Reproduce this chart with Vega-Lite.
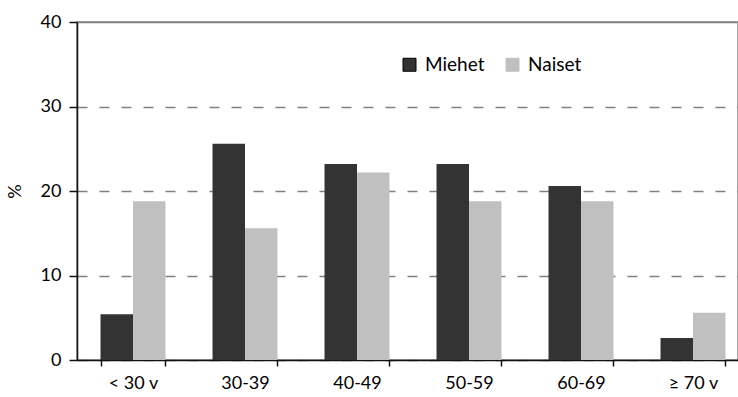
{
  "$schema": "https://vega.github.io/schema/vega-lite/v6.json",
  "autosize": {"type": "none"},
  "padding": {"left": 77, "top": 22, "right": 0, "bottom": 37},
  "width": 661,
  "height": 338,
  "background": "white",
  "config": {
    "font": "Lato",
    "view": {"stroke": "#888888", "strokeWidth": 1.5},
    "axis": {"labelFont": "Lato", "titleFont": "Lato", "labelColor": "#000000", "titleColor": "#000000"}
  },
  "data": {
    "values": [
      {"ika": "< 30 v", "sukupuoli": "Miehet", "osuus": 5.4},
      {"ika": "< 30 v", "sukupuoli": "Naiset", "osuus": 18.8},
      {"ika": "30-39", "sukupuoli": "Miehet", "osuus": 25.6},
      {"ika": "30-39", "sukupuoli": "Naiset", "osuus": 15.6},
      {"ika": "40-49", "sukupuoli": "Miehet", "osuus": 23.2},
      {"ika": "40-49", "sukupuoli": "Naiset", "osuus": 22.2},
      {"ika": "50-59", "sukupuoli": "Miehet", "osuus": 23.2},
      {"ika": "50-59", "sukupuoli": "Naiset", "osuus": 18.8},
      {"ika": "60-69", "sukupuoli": "Miehet", "osuus": 20.6},
      {"ika": "60-69", "sukupuoli": "Naiset", "osuus": 18.8},
      {"ika": "≥ 70 v", "sukupuoli": "Miehet", "osuus": 2.6},
      {"ika": "≥ 70 v", "sukupuoli": "Naiset", "osuus": 5.6}
    ]
  },
  "mark": {"type": "bar"},
  "encoding": {
    "x": {
      "field": "ika",
      "type": "nominal",
      "sort": null,
      "scale": {"range": [0, 672], "paddingInner": 0.42, "paddingOuter": 0.21},
      "axis": {
        "title": null,
        "labelAngle": 0,
        "labelFontSize": 18,
        "labelPadding": 8,
        "tickBand": "extent",
        "tickSize": 6,
        "tickColor": "#111111",
        "tickWidth": 1.5,
        "domainColor": "#111111",
        "domainWidth": 1.5,
        "grid": false
      }
    },
    "xOffset": {"field": "sukupuoli", "type": "nominal", "sort": ["Miehet", "Naiset"]},
    "y": {
      "field": "osuus",
      "type": "quantitative",
      "scale": {"domain": [0, 40], "nice": false},
      "axis": {
        "title": "%",
        "titleAngle": -90,
        "titleFontSize": 18,
        "titleFontWeight": "normal",
        "titlePadding": 16,
        "values": [0, 10, 20, 30, 40],
        "labelFontSize": 18,
        "labelPadding": 8,
        "tickSize": 8,
        "tickColor": "#111111",
        "tickWidth": 1.5,
        "domainColor": "#111111",
        "domainWidth": 1.5,
        "grid": true,
        "gridColor": "#808080",
        "gridWidth": 1.5,
        "gridDash": {"condition": {"test": "datum.value === 40", "value": []}, "value": [10, 12]}
      }
    },
    "color": {
      "field": "sukupuoli",
      "type": "nominal",
      "scale": {"domain": ["Miehet", "Naiset"], "range": ["#333333", "#c0c0c0"]},
      "legend": {
        "title": null,
        "orient": "none",
        "legendX": 323,
        "legendY": 33,
        "direction": "horizontal",
        "symbolType": "square",
        "symbolSize": 169,
        "symbolOpacity": 1,
        "labelFontSize": 19,
        "labelColor": "#000000",
        "labelOffset": 6,
        "columnPadding": 18,
        "encode": {
          "symbols": {
            "update": {
              "stroke": {"signal": "datum.value === 'Miehet' ? '#000000' : '#c0c0c0'"},
              "strokeWidth": {"value": 1}
            }
          }
        }
      }
    }
  }
}
